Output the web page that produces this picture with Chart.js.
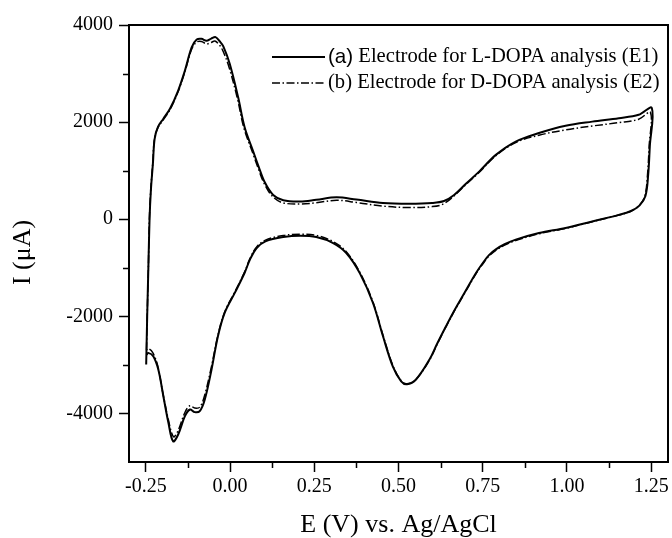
<!DOCTYPE html>
<html>
<head>
<meta charset="utf-8">
<script src="https://cdn.jsdelivr.net/npm/chart.js@4.4.1/dist/chart.umd.min.js"></script>
<style>
  html, body { margin: 0; padding: 0; background: #fff; }
  #wrap { width: 672px; height: 538px; }
</style>
</head>
<body>
<div id="wrap"><canvas id="c" width="672" height="538"></canvas></div>
<script>
// ---- Data (potential V vs Ag/AgCl, current µA) ----
const e1Points = [
  [-0.249,-2990],[-0.246,-2000],[-0.2425,-1000],[-0.239,0],[-0.235,600],[-0.229,1150],[-0.224,1650],
  [-0.214,1900],[-0.198,2070],[-0.178,2280],[-0.154,2650],[-0.134,3060],[-0.114,3540],[-0.099,3700],
  [-0.085,3715],[-0.070,3675],[-0.056,3720],[-0.043,3750],[-0.030,3660],[-0.020,3560],[-0.001,3200],
  [0.024,2510],[0.043,1900],[0.068,1410],[0.085,1080],[0.103,760],[0.128,500],[0.158,390],[0.208,365],
  [0.256,400],[0.316,450],[0.375,405],[0.454,335],[0.532,320],[0.600,335],[0.635,375],[0.665,500],
  [0.700,730],[0.740,985],[0.789,1325],[0.848,1600],[0.917,1775],[0.996,1925],[1.075,2010],[1.154,2080],
  [1.213,2150],[1.252,2290],[1.246,1500],[1.241,900],[1.233,480],[1.215,280],[1.190,170],[1.154,90],
  [1.075,-45],[0.996,-180],[0.917,-285],[0.848,-420],[0.815,-515],[0.789,-620],[0.770,-730],
  [0.754,-865],[0.730,-1107],[0.690,-1588],[0.665,-1890],[0.641,-2205],[0.615,-2560],[0.592,-2890],
  [0.552,-3300],[0.525,-3400],[0.508,-3340],[0.483,-3030],[0.454,-2410],[0.424,-1720],[0.385,-1110],
  [0.345,-695],[0.306,-490],[0.256,-367],[0.209,-340],[0.158,-367],[0.105,-456],[0.079,-593],
  [0.059,-833],[0.043,-1107],[0.014,-1518],[-0.016,-1930],[-0.036,-2410],[-0.055,-3096],[-0.075,-3713],
  [-0.090,-3953],[-0.105,-3973],[-0.119,-3919],[-0.134,-4056],[-0.154,-4433],[-0.169,-4575],
  [-0.183,-4193],[-0.198,-3645],[-0.213,-3096],[-0.228,-2822],[-0.243,-2753],[-0.247,-2790]
];
const e2Points = [
  [-0.248,-2700],[-0.246,-2000],[-0.2425,-1000],[-0.2395,0],[-0.2355,600],[-0.2295,1150],[-0.2245,1650],
  [-0.2145,1880],[-0.198,2050],[-0.178,2260],[-0.154,2630],[-0.134,3040],[-0.114,3500],[-0.099,3650],
  [-0.085,3660],[-0.070,3610],[-0.056,3640],[-0.045,3670],[-0.032,3590],[-0.022,3480],[-0.003,3130],
  [0.022,2480],[0.041,1880],[0.066,1390],[0.083,1060],[0.101,740],[0.126,470],[0.156,340],[0.208,315],
  [0.256,340],[0.316,390],[0.375,345],[0.454,270],[0.532,240],[0.600,260],[0.632,310],[0.663,470],
  [0.700,715],[0.740,970],[0.789,1310],[0.848,1580],[0.917,1730],[0.996,1840],[1.075,1920],[1.154,1990],
  [1.213,2060],[1.248,2200],[1.244,1500],[1.239,900],[1.231,470],[1.213,270],[1.190,165],[1.154,85],
  [1.075,-50],[0.996,-190],[0.917,-300],[0.848,-440],[0.815,-535],[0.789,-640],[0.770,-750],
  [0.754,-885],[0.730,-1125],[0.690,-1600],[0.665,-1900],[0.641,-2215],[0.615,-2570],[0.592,-2900],
  [0.552,-3300],[0.525,-3390],[0.508,-3330],[0.483,-3010],[0.454,-2390],[0.424,-1700],[0.385,-1090],
  [0.345,-670],[0.306,-460],[0.256,-335],[0.209,-310],[0.158,-335],[0.105,-430],[0.079,-570],
  [0.059,-810],[0.043,-1090],[0.014,-1500],[-0.016,-1910],[-0.036,-2390],[-0.056,-3060],[-0.076,-3640],
  [-0.090,-3870],[-0.105,-3890],[-0.119,-3840],[-0.134,-3980],[-0.154,-4350],[-0.168,-4480],
  [-0.184,-4100],[-0.200,-3560],[-0.215,-3010],[-0.230,-2740],[-0.243,-2660],[-0.247,-2690]
];
const seriesTags = ['(a)', '(b)'];
const seriesNames = ['Electrode for L-DOPA analysis (E1)', 'Electrode for D-DOPA analysis (E2)'];
const xTickValues = [-0.25, 0, 0.25, 0.5, 0.75, 1.0, 1.25];
const xMinorTicks = [-0.125, 0.125, 0.375, 0.625, 0.875, 1.125];
const yTickValues = [-4000, -2000, 0, 2000, 4000];
const yMinorTicks = [-3000, -1000, 1000, 3000];
const xTitle = 'E (V) vs. Ag/AgCl';
const yTitle = 'I (\u03BCA)';

const SERIF = '"Liberation Serif", "Times New Roman", serif';
const SANS = '"Liberation Sans", Arial, sans-serif';

const extras = {
  id: 'extras',
  afterDraw(chart) {
    const {ctx, chartArea: a, scales: {x, y}} = chart;
    ctx.save();
    ctx.strokeStyle = '#000';
    ctx.lineWidth = 1.5;
    ctx.setLineDash([]);
    ctx.beginPath();
    xMinorTicks.forEach(v => {
      const px = Math.round(x.getPixelForValue(v)) + 0.5;
      ctx.moveTo(px, a.bottom); ctx.lineTo(px, a.bottom + 6);
    });
    yMinorTicks.forEach(v => {
      const py = Math.round(y.getPixelForValue(v)) + 0.5;
      ctx.moveTo(a.left, py); ctx.lineTo(a.left - 6, py);
    });
    ctx.stroke();
    // frame
    ctx.lineWidth = 2;
    ctx.strokeRect(a.left, a.top, a.right - a.left, a.bottom - a.top);
    // y axis title
    ctx.save();
    ctx.translate(23, (a.top + a.bottom) / 2 + 9);
    ctx.rotate(-Math.PI / 2);
    ctx.fillStyle = '#000';
    ctx.font = '26px ' + SERIF;
    ctx.textAlign = 'center';
    ctx.textBaseline = 'middle';
    ctx.fillText(yTitle, 0, 0);
    ctx.restore();
    // legend
    chart.data.datasets.forEach((ds, i) => {
      const ly = a.top + 32 + i * 26;
      const x0 = a.left + 143, x1 = a.left + 196;
      ctx.save();
      ctx.strokeStyle = ds.borderColor;
      ctx.lineWidth = ds.borderWidth;
      ctx.setLineDash(ds.borderDash || []);
      ctx.beginPath();
      ctx.moveTo(x0, ly); ctx.lineTo(x1, ly);
      ctx.stroke();
      ctx.restore();
      ctx.fillStyle = '#000';
      ctx.textBaseline = 'middle';
      ctx.textAlign = 'left';
      let tx = x1 + 3;
      ctx.font = (i === 0 ? '20.6px ' + SANS : '20.6px ' + SERIF);
      ctx.fillText(seriesTags[i], tx, ly);
      tx += ctx.measureText(seriesTags[i]).width;
      ctx.font = '20.6px ' + SERIF;
      ctx.fillText(' ' + seriesNames[i], tx, ly);
    });
    ctx.restore();
  }
};

const toXY = pts => pts.map(p => ({x: p[0], y: p[1]}));

new Chart(document.getElementById('c'), {
  type: 'scatter',
  data: {
    datasets: [
      {
        label: seriesTags[0] + ' ' + seriesNames[0],
        data: toXY(e1Points),
        showLine: true,
        borderColor: '#000',
        borderWidth: 2,
        pointRadius: 0,
        tension: 0.35,
        fill: false
      },
      {
        label: seriesTags[1] + ' ' + seriesNames[1],
        data: toXY(e2Points),
        showLine: true,
        borderColor: '#000',
        borderWidth: 1.5,
        borderDash: [8, 2.5, 1.5, 2.5],
        pointRadius: 0,
        tension: 0.35,
        fill: false
      }
    ]
  },
  options: {
    responsive: false,
    animation: false,
    devicePixelRatio: 1,
    layout: { padding: { left: 0, top: 25, right: 4, bottom: 0 } },
    plugins: {
      legend: { display: false },
      tooltip: { enabled: false }
    },
    scales: {
      x: {
        type: 'linear',
        position: 'bottom',
        min: -0.3,
        max: 1.3,
        afterBuildTicks: s => { s.ticks = xTickValues.map(v => ({value: v})); },
        afterFit: s => { s.height = 76; s.paddingLeft = 0; s.paddingRight = 0; },
        ticks: {
          callback: v => Number(v).toFixed(2),
          font: { family: SERIF, size: 20 },
          color: '#000',
          padding: 3,
          maxRotation: 0,
          autoSkip: false
        },
        grid: { drawOnChartArea: false, tickLength: 10, tickWidth: 1.5, tickColor: '#000' },
        border: { display: true, color: '#000', width: 2 },
        title: {
          display: true, text: xTitle, color: '#000',
          font: { family: SERIF, size: 26, lineHeight: 1 },
          padding: { top: 0, bottom: 0 }
        }
      },
      y: {
        type: 'linear',
        position: 'left',
        min: -5000,
        max: 4000,
        afterBuildTicks: s => { s.ticks = yTickValues.map(v => ({value: v})); },
        afterFit: s => { s.width = 129; s.paddingTop = 0; s.paddingBottom = 0; },
        ticks: {
          callback: v => String(v),
          font: { family: SERIF, size: 20 },
          color: '#000',
          padding: 6,
          autoSkip: false
        },
        grid: { drawOnChartArea: false, tickLength: 10, tickWidth: 1.5, tickColor: '#000' },
        border: { display: true, color: '#000', width: 2 },
        title: { display: false }
      }
    }
  },
  plugins: [extras]
});
</script>
</body>
</html>
